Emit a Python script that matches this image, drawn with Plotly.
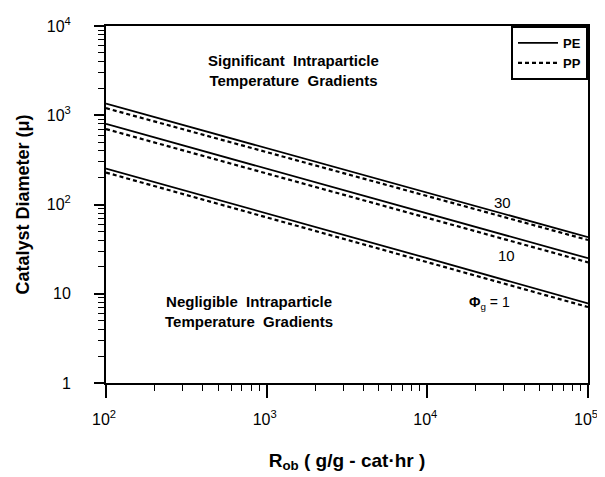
import plotly.graph_objects as go

# ---- data ----
rate = [1e2, 1e3, 1e4, 1e5]          # R_ob (g/g-cat.hr)
pe_30 = [1350, 430, 136, 43]
pp_30 = [1200, 385, 125, 40]
pe_10 = [800, 252, 80, 25]
pp_10 = [700, 224, 71, 22.5]
pe_1 = [253, 80, 25, 7.8]
pp_1 = [228, 72, 22.5, 7.1]

x_tickvals = [1e2, 1e3, 1e4, 1e5]
x_ticktext = ["10<sup>2</sup>", "10<sup>3</sup>", "10<sup>4</sup>", "10<sup>5</sup>"]
y_tickvals = [1, 10, 100, 1000, 10000]
y_ticktext = ["1", "10", "10<sup>2</sup>", "10<sup>3</sup>", "10<sup>4</sup>"]

FONT = "Liberation Sans"

def minor_vals(lo_exp, hi_exp):
    out = []
    for e in range(lo_exp, hi_exp):
        for m in range(2, 10):
            out.append(m * 10 ** e)
    return out

fig = go.Figure()

series = [
    (pe_30, pp_30),
    (pe_10, pp_10),
    (pe_1, pp_1),
]
for i, (pe, pp) in enumerate(series):
    fig.add_trace(go.Scatter(
        x=rate, y=pe, mode="lines", name="PE", legendgroup="PE",
        showlegend=(i == 0), line=dict(color="black", width=1.8)))
    fig.add_trace(go.Scatter(
        x=rate, y=pp, mode="lines", name="PP", legendgroup="PP",
        showlegend=(i == 0), line=dict(color="black", width=2.2, dash="4px,3px")))

txt_font = dict(family=FONT, size=15, color="black", weight="bold")
ann_common = dict(xref="paper", yref="paper", showarrow=False,
                  xanchor="center", yanchor="middle", align="center")
fig.add_annotation(**ann_common, x=0.388, y=0.874,
                   text="Significant  Intraparticle<br>Temperature  Gradients",
                   font=txt_font)
fig.add_annotation(**ann_common, x=0.297, y=0.201,
                   text="Negligible  Intraparticle<br>Temperature  Gradients",
                   font=txt_font)
lab_font = dict(family=FONT, size=15, color="black")
fig.add_annotation(**ann_common, x=0.823, y=0.506, text="30", font=lab_font)
fig.add_annotation(**ann_common, x=0.831, y=0.358, text="10", font=lab_font)
fig.add_annotation(**ann_common, x=0.795, y=0.223,
                   text="<b>Φ</b><sub>g</sub> = 1",
                   font=dict(family=FONT, size=14, color="black"))

axis_common = dict(
    type="log", showgrid=False, zeroline=False,
    showline=True, linecolor="black", linewidth=2, mirror=True,
    ticks="outside", tickcolor="black", tickwidth=1.5,
    tickfont=dict(family=FONT, size=16, color="black"),
)

fig.update_xaxes(
    **axis_common,
    range=[2, 5],
    tickvals=x_tickvals, ticktext=x_ticktext, ticklen=13,
    ticklabelstandoff=8, ticklabeloverflow="allow", ticklabelshift=-2,
    minor=dict(ticks="outside", ticklen=6, tickcolor="black", tickwidth=1.2,
               tickvals=minor_vals(2, 5)),
    title=dict(text="R<sub>ob</sub> ( g/g - cat·hr )",
               font=dict(family=FONT, size=19, color="black", weight="bold"),
               standoff=26),
)
fig.update_yaxes(
    **axis_common,
    range=[0, 4],
    tickvals=y_tickvals, ticktext=y_ticktext, ticklen=10,
    ticklabelstandoff=20,
    minor=dict(ticks="outside", ticklen=6, tickcolor="black", tickwidth=1.2,
               tickvals=minor_vals(0, 4)),
    title=dict(text="Catalyst Diameter (μ)",
               font=dict(family=FONT, size=18, color="black", weight="bold"),
               standoff=12),
)

# page body has an 8px margin, so the figure is sized/offset to land the
# plot area at the reference position inside the 605x477 window
fig.update_layout(
    width=597, height=469,
    margin=dict(l=98, r=7, t=17, b=94),
    paper_bgcolor="white", plot_bgcolor="white",
    showlegend=True,
    legend=dict(x=1, y=1, xanchor="right", yanchor="top",
                bgcolor="white", bordercolor="black", borderwidth=2,
                font=dict(family=FONT, size=13, color="black", weight="bold"),
                itemwidth=40, tracegroupgap=0),
)

fig.write_html("out.html")
